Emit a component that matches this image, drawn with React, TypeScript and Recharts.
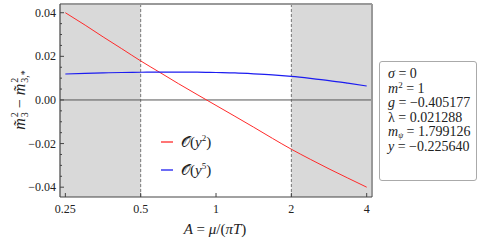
import {
  ComposedChart,
  Line,
  XAxis,
  YAxis,
  ReferenceArea,
  ReferenceLine,
} from "recharts";

// A = mu / (pi T), sampled on a log grid
const aValues = [0.25, 0.3, 0.354, 0.42, 0.5, 0.595, 0.707, 0.84, 1, 1.19, 1.414, 1.68, 2, 2.38, 2.828, 3.36, 4];
// O(y^2) curve
const orderY2 = [0.04, 0.0343, 0.0289, 0.0235, 0.0179, 0.0127, 0.0075, 0.0025, -0.0025, -0.0075, -0.0125, -0.0176, -0.0226, -0.0272, -0.0316, -0.0358, -0.04];
// O(y^5) curve
const orderY5 = [0.0119, 0.0122, 0.0124, 0.0126, 0.0127, 0.0128, 0.0128, 0.0128, 0.0126, 0.0124, 0.012, 0.0115, 0.0108, 0.0099, 0.0089, 0.0077, 0.0064];

const xTicks = [0.25, 0.5, 1, 2, 4];
const yMajorTicks = [-0.04, -0.02, 0, 0.02, 0.04];
const yAllTicks = [-0.04, -0.035, -0.03, -0.025, -0.02, -0.015, -0.01, -0.005, 0, 0.005, 0.01, 0.015, 0.02, 0.025, 0.03, 0.035, 0.04];

const xDomain = [0.238, 4.2];
const yDomain = [-0.0445, 0.044];
const lowBand = [0.238, 0.5];
const highBand = [2, 4.2];

const SERIF = "Liberation Serif";
const RED = "#ff2a2a";
const BLUE = "#1c1cf0";

const chartData = aValues.map((a, i) => ({ a, y2: orderY2[i], y5: orderY5[i] }));

function fmtY(v: number) {
  if (Math.abs(v) < 1e-9) return "0.00";
  const s = Math.abs(v).toFixed(2);
  return v < 0 ? "\u2212" + s : s;
}

function YTick(props: any) {
  const { x, y, payload } = props;
  const v = payload.value as number;
  const major = yMajorTicks.some((t) => Math.abs(t - v) < 1e-9);
  return (
    <g>
      <line x1={x} x2={x + (major ? 4 : 2)} y1={y} y2={y} stroke="#444" strokeWidth={1} />
      {major && (
        <text x={x - 4} y={y + 4} textAnchor="end" fontSize={12} style={{ fontFamily: SERIF }} fill="#222">
          {fmtY(v)}
        </text>
      )}
    </g>
  );
}

function XTick(props: any) {
  const { x, y, payload } = props;
  return (
    <g>
      <line x1={x} x2={x} y1={y} y2={y - 4} stroke="#444" strokeWidth={1} />
      <text x={x} y={y + 16} textAnchor="middle" fontSize={12} style={{ fontFamily: SERIF }} fill="#222">
        {String(payload.value)}
      </text>
    </g>
  );
}

const it: React.CSSProperties = { fontStyle: "italic" };
const sup: React.CSSProperties = { fontSize: 9, position: "relative", top: -6, lineHeight: 0 };
const sub: React.CSSProperties = { fontSize: 8, position: "relative", top: 2, lineHeight: 0, fontStyle: "italic" };
const stack: React.CSSProperties = {
  display: "inline-flex",
  flexDirection: "column",
  verticalAlign: "middle",
  fontSize: 10,
  lineHeight: "10px",
  marginLeft: 1,
};
const row: React.CSSProperties = { height: 14.6, lineHeight: "14.6px" };

function Swatch({ color }: { color: string }) {
  return (
    <svg width={12} height={4} style={{ marginRight: 8, display: "block" }}>
      <line x1={0} x2={12} y1={2} y2={2} stroke={color} strokeWidth={1.3} />
    </svg>
  );
}

export default function App() {
  return (
    <div style={{ position: "absolute", left: 0, top: 0, width: 479, height: 248, background: "#fff", fontFamily: SERIF }}>
      <ComposedChart
        width={479}
        height={248}
        data={chartData}
        margin={{ top: 4, right: 107, bottom: 0, left: 0 }}
      >
        <XAxis
          dataKey="a"
          type="number"
          scale="log"
          domain={xDomain}
          allowDataOverflow
          ticks={xTicks}
          tickSize={0}
          tickMargin={0}
          tickLine={false}
          tick={<XTick />}
          height={51}
          axisLine={{ stroke: "#444", strokeWidth: 1.2 }}
        />
        <YAxis
          type="number"
          domain={yDomain}
          allowDataOverflow
          ticks={yAllTicks}
          interval={0}
          tickSize={0}
          tickMargin={0}
          tickLine={false}
          tick={<YTick />}
          width={60}
          axisLine={{ stroke: "#444", strokeWidth: 1.2 }}
        />
        <ReferenceArea x1={lowBand[0]} x2={lowBand[1]} fill="#d9d9d9" fillOpacity={1} stroke="none" />
        <ReferenceArea x1={highBand[0]} x2={highBand[1]} fill="#d9d9d9" fillOpacity={1} stroke="none" />
        <ReferenceLine x={0.5} stroke="#777" strokeDasharray="3 2" strokeWidth={1} />
        <ReferenceLine x={2} stroke="#777" strokeDasharray="3 2" strokeWidth={1} />
        <ReferenceLine y={0} stroke="#555" strokeWidth={1} />
        <ReferenceLine y={yDomain[1]} stroke="#999" strokeWidth={2} />
        <ReferenceLine x={xDomain[1]} stroke="#999" strokeWidth={2} />
        <Line
          dataKey="y2"
          type="monotone"
          stroke={RED}
          strokeWidth={1}
          dot={false}
          isAnimationActive={false}
        />
        <Line
          dataKey="y5"
          type="monotone"
          stroke={BLUE}
          strokeWidth={1.2}
          dot={false}
          isAnimationActive={false}
        />
      </ComposedChart>

      {/* y axis label */}
      <div
        style={{
          position: "absolute",
          left: 20,
          top: 100,
          transform: "translate(-50%, -50%) rotate(-90deg)",
          whiteSpace: "nowrap",
          fontSize: 16,
          color: "#222",
          display: "flex",
          alignItems: "center",
        }}
      >
        <span style={it}>m&#771;</span>
        <span style={stack}>
          <span>2</span>
          <span>3</span>
        </span>
        <span>&nbsp;{"\u2212"}&nbsp;</span>
        <span style={it}>m&#771;</span>
        <span style={stack}>
          <span>2</span>
          <span>3,*</span>
        </span>
      </div>

      {/* x axis label */}
      <div
        style={{
          position: "absolute",
          left: 215,
          top: 229,
          transform: "translate(-50%, -50%)",
          whiteSpace: "nowrap",
          fontSize: 15,
          color: "#222",
        }}
      >
        <span style={it}>A</span> = <span style={it}>μ</span>/(<span style={it}>π</span>
        <span style={it}>T</span>)
      </div>

      {/* legend */}
      <div style={{ position: "absolute", left: 161, top: 128, fontSize: 15, color: "#222" }}>
        <div style={{ display: "flex", alignItems: "center", height: 28 }}>
          <Swatch color={RED} />
          <span>
            𝒪(<span style={it}>y</span>
            <span style={sup}>2</span>)
          </span>
        </div>
        <div style={{ display: "flex", alignItems: "center", height: 28 }}>
          <Swatch color={BLUE} />
          <span>
            𝒪(<span style={it}>y</span>
            <span style={sup}>5</span>)
          </span>
        </div>
      </div>

      {/* parameter box */}
      <div
        style={{
          position: "absolute",
          left: 379,
          top: 61,
          width: 98,
          height: 120,
          border: "1px solid #aaa",
          borderRadius: 3,
          boxSizing: "border-box",
          padding: "5px 0 0 8px",
          fontSize: 14,
          color: "#222",
          whiteSpace: "nowrap",
        }}
      >
        <div style={row}><span style={it}>σ</span> = 0</div>
        <div style={row}><span style={it}>m</span><span style={{ ...sup, top: -5 }}>2</span> = 1</div>
        <div style={row}><span style={it}>g</span> = −0.405177</div>
        <div style={row}>λ = 0.021288</div>
        <div style={row}><span style={it}>m</span><span style={sub}>ψ</span> = 1.799126</div>
        <div style={row}><span style={it}>y</span> = −0.225640</div>
      </div>
    </div>
  );
}
